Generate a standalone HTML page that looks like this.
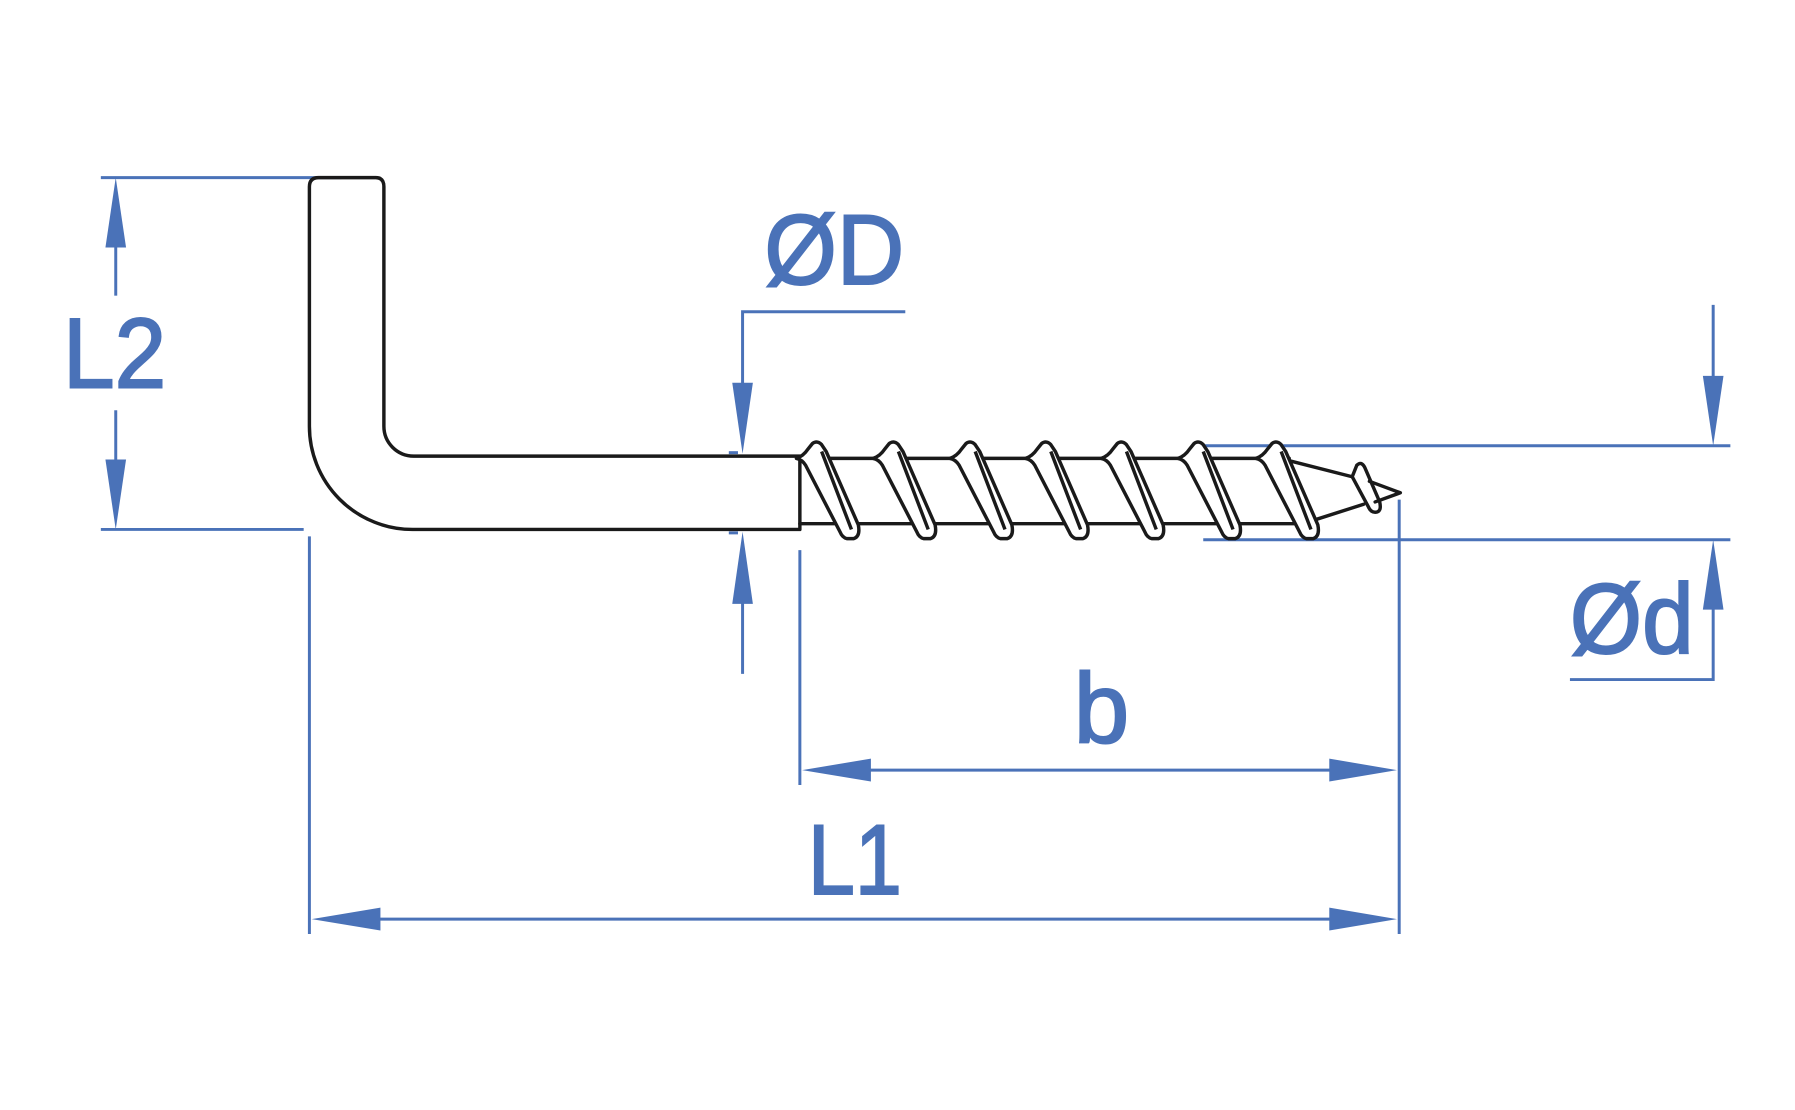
<!DOCTYPE html>
<html><head><style>html,body{margin:0;padding:0;background:#fff}svg{display:block}</style></head>
<body>
<svg width="1795" height="1110" viewBox="0 0 1566.4 968.6" preserveAspectRatio="none" xmlns="http://www.w3.org/2000/svg">
<defs>
<path id="th" d="M0,13 Q6,11 10,5 L14,0 Q18,-3 22,1 L26,7 L54,71 Q56,81 50,83 L44,83 Q40,82 38,77 L8,19 Q5,14 0,13 Z M22,7 L48,75"/>
</defs>
<g fill="none" stroke="#4a72b8" stroke-width="2.6">
<line x1="88" y1="155" x2="298" y2="155"/>
<line x1="88" y1="462" x2="265" y2="462"/>
<line x1="101" y1="210" x2="101" y2="258"/>
<line x1="101" y1="358" x2="101" y2="408"/>
<polyline points="790,272 648,272 648,340"/>
<line x1="648" y1="520" x2="648" y2="588"/>
<line x1="636" y1="395" x2="644" y2="395"/>
<line x1="636" y1="465" x2="644" y2="465"/>
<line x1="1050" y1="389" x2="1510" y2="389"/>
<line x1="1050" y1="471" x2="1510" y2="471"/>
<line x1="1495" y1="266" x2="1495" y2="334"/>
<polyline points="1495,525 1495,593 1370,593"/>
<line x1="698" y1="480" x2="698" y2="685"/>
<line x1="1221" y1="436" x2="1221" y2="815"/>
<line x1="750" y1="672" x2="1170" y2="672"/>
<line x1="270" y1="468" x2="270" y2="815"/>
<line x1="320" y1="802" x2="1170" y2="802"/>
</g>
<g fill="#4a72b8">
<polygon points="101,155 92,216 110,216"/>
<polygon points="101,462 92,401 110,401"/>
<polygon points="648,396 639,334 657,334"/>
<polygon points="648,464 639,527 657,527"/>
<polygon points="1495,389 1486,328 1504,328"/>
<polygon points="1495,471 1486,532 1504,532"/>
<polygon points="700,672 760,662 760,682"/>
<polygon points="1219,672 1160,662 1160,682"/>
<polygon points="272,802 332,792 332,812"/>
<polygon points="1219,802 1160,792 1160,812"/>
</g>
<g fill="#4a72b8" stroke="#4a72b8" stroke-width="1.8" font-family="Liberation Sans, Arial, sans-serif" font-size="87">
<text x="55" y="338" textLength="90" lengthAdjust="spacingAndGlyphs">L2</text>
<text x="667" y="248" textLength="122" lengthAdjust="spacingAndGlyphs">ØD</text>
<text x="1370" y="570" textLength="108" lengthAdjust="spacingAndGlyphs">Ød</text>
<text x="937" y="648">b</text>
<text x="705" y="780" textLength="82" lengthAdjust="spacingAndGlyphs">L1</text>
</g>
<g fill="none" stroke="#1a1a1a" stroke-width="3" stroke-linejoin="round" stroke-linecap="round">
<path d="M298,155 L328,155 Q335,155 335,163 L335,372 A26,26 0 0 0 361,398 L698,398 L698,462 L360,462 A90,90 0 0 1 270,372 L270,163 Q270,155 278,155 L298,155"/>
<path d="M698,400 L1125,400 M698,457 L1130,457"/>
<path d="M1125,402 L1180,416 M1140,456 L1190,440 M1195,420 L1222,430 L1200,438"/>
<path d="M1180,416 L1184,406 Q1188,402 1191,408 L1204,438 Q1206,447 1200,447 Q1196,447 1194,442 Z"/>
</g>
<g fill="#fff" stroke="#1a1a1a" stroke-width="3" stroke-linejoin="round">
<use href="#th" x="695" y="387"/>
<use href="#th" x="762" y="387"/>
<use href="#th" x="829" y="387"/>
<use href="#th" x="895" y="387"/>
<use href="#th" x="961" y="387"/>
<use href="#th" x="1028" y="387"/>
<use href="#th" x="1096" y="387"/>
</g>
</svg>
</body></html>
